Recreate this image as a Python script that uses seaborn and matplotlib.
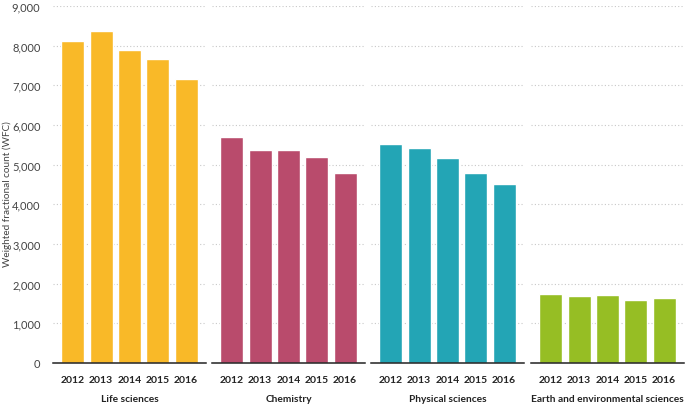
import matplotlib
matplotlib.use("Agg")
import matplotlib.pyplot as plt
import pandas as pd
import seaborn as sns

years = ["2012", "2013", "2014", "2015", "2016"]
subjects = ["Life sciences", "Chemistry", "Physical sciences",
            "Earth and environmental sciences"]
life = [8130, 8380, 7900, 7660, 7150]
chemistry = [5710, 5380, 5380, 5200, 4780]
physical = [5520, 5420, 5180, 4800, 4520]
earth = [1750, 1680, 1720, 1590, 1630]
colors = ["#F9B928", "#B94B6C", "#23A5B5", "#96BE24"]

values = [life, chemistry, physical, earth]

sns.set_style("white")
plt.rcParams["font.family"] = ["Lato", "DejaVu Sans"]

fig = plt.figure(figsize=(6.85, 4.06), dpi=100)
W, H = 685, 406
bottom = (H - 364) / H
height = (364 - 7) / H
lefts = [53, 212, 371, 531]
pw = 153

for i, (name, vals, col) in enumerate(zip(subjects, values, colors)):
    ax = fig.add_axes([lefts[i] / W, bottom, pw / W, height])
    df = pd.DataFrame({"year": years, "wfc": vals})
    sns.barplot(data=df, x="year", y="wfc", color=col, saturation=1,
                width=0.81, ax=ax, zorder=2)
    ax.set_xlim(-0.7, 4.7)
    ax.set_ylim(0, 9000)
    ax.set_yticks(range(0, 9001, 1000))
    ax.yaxis.grid(True, linestyle=(0, (1, 2)), color="#c8c8c8", linewidth=0.8, zorder=0)
    ax.set_axisbelow(True)
    for s in ["top", "right", "left"]:
        ax.spines[s].set_visible(False)
    ax.spines["bottom"].set_color("#222222")
    ax.spines["bottom"].set_linewidth(1.1)
    ax.tick_params(axis="x", length=5, width=0.8, color="#999999",
                   labelsize=7.5, labelcolor="#222222", pad=4)
    for lab in ax.get_xticklabels():
        lab.set_fontweight("bold")
    ax.set_xlabel(name, fontsize=7.3, fontweight="bold", color="#222222", labelpad=7)
    ax.set_ylabel("")
    if i == 0:
        ax.set_yticklabels([f"{v:,}" for v in range(0, 9001, 1000)])
        ax.tick_params(axis="y", length=0, labelsize=8, labelcolor="#444444", pad=9)
    else:
        ax.tick_params(axis="y", length=0, labelleft=False)

fig.text(2 / W, 1 - 194 / H, "Weighted fractional count (WFC)", rotation=90,
         fontsize=7.2, color="#444444", ha="left", va="center")

fig.savefig("out.png", dpi=100)
